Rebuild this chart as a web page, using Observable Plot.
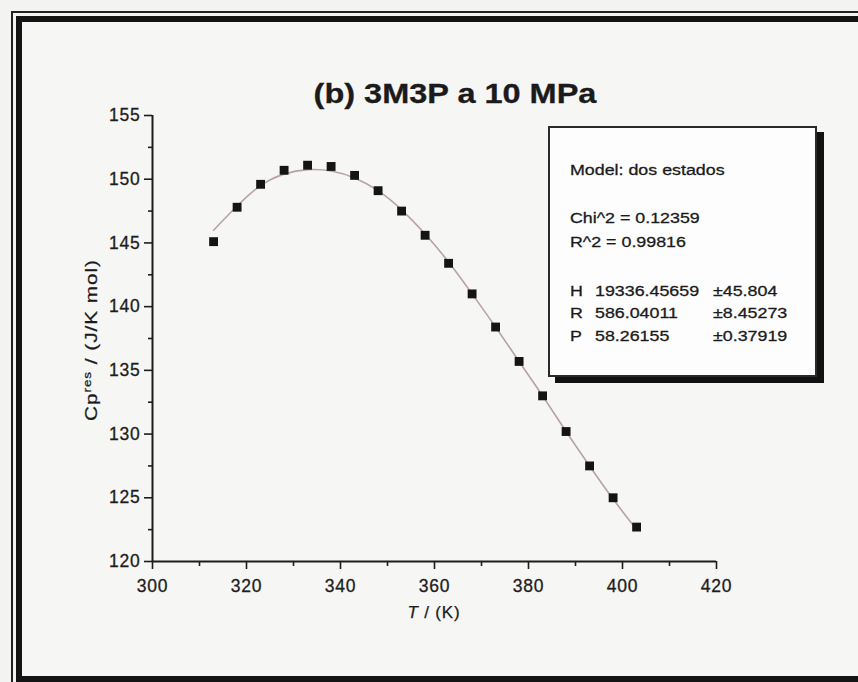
<!DOCTYPE html>
<html>
<head>
<meta charset="utf-8">
<script src="https://cdn.jsdelivr.net/npm/d3@7"></script>
<script src="https://cdn.jsdelivr.net/npm/@observablehq/plot@0.6"></script>
<style>
  html, body { margin: 0; padding: 0; }
  body {
    width: 858px; height: 682px; overflow: hidden; position: relative;
    background: #f3f3f1;
    font-family: "Liberation Sans", Arial, sans-serif; color: #1b1b1b;
  }
  #frameOuter { position: absolute; left: 11px; top: 11px; width: 900px; height: 700px; border: 2px solid #222; }
  #frameInner { position: absolute; left: 16px; top: 16px; width: 900px; height: 654px; border: 6px solid #141414; background: #f6f6f4; }
  #chart { position: absolute; left: 0; top: 0; }
  #chart svg text { stroke: #1d1d1d; stroke-width: 0.3px; }
  .txt { position: absolute; white-space: nowrap; line-height: 1; -webkit-text-stroke: 0.25px #1b1b1b; }
  #title { left: 455px; top: 80px; font-size: 28px; font-weight: bold; transform: translateX(-50%) scaleX(1.16); -webkit-text-stroke: 0.3px #1b1b1b; }
  #ylabel { left: 91px; top: 340px; font-size: 17px; letter-spacing: 0.8px; transform: translate(-50%, -50%) rotate(-90deg) scaleX(1.22); }
  #ylabel sup { font-size: 11px; vertical-align: 6px; }
  #xlabel { left: 434px; top: 612px; font-size: 17px; letter-spacing: 0.8px; transform: translate(-50%, -50%); }
  #legendBox {
    position: absolute; left: 548px; top: 126px; width: 269px; height: 251px; box-sizing: border-box;
    border: 2px solid #2a2a2a; background: #fdfdfd; box-shadow: 7px 6px 0 #121212;
  }
  .leg { font-size: 15.5px; transform: scaleX(1.15); transform-origin: 0 0; -webkit-text-stroke: 0.3px #1b1b1b; }
</style>
</head>
<body>
<div id="frameOuter"></div>
<div id="frameInner"></div>
<div id="chart"></div>
<div id="legendBox"></div>
<div id="legend"></div>
<div class="txt" id="title">(b) 3M3P a 10 MPa</div>
<div class="txt" id="ylabel">Cp<sup>res</sup> / (J/K mol)</div>
<div class="txt" id="xlabel"><i>T</i> / (K)</div>
<script>
// Heat capacity of 3M3P at 10 MPa: measured points and the two-state model fit
const temperature = [313, 318, 323, 328, 333, 338, 343, 348, 353, 358, 363, 368, 373, 378, 383, 388, 393, 398, 403];
const cpMeasured  = [145.1, 147.8, 149.6, 150.7, 151.1, 151.0, 150.3, 149.1, 147.5, 145.6, 143.4, 141.0, 138.4, 135.7, 133.0, 130.2, 127.5, 125.0, 122.7];
const cpModel     = [146.0, 147.9, 149.5, 150.4, 150.75, 150.65, 150.1, 149.1, 147.6, 145.7, 143.5, 141.0, 138.4, 135.7, 133.0, 130.2, 127.5, 124.9, 122.5];

const xTicks = [300, 320, 340, 360, 380, 400, 420];
const xMinorTicks = [310, 330, 350, 370, 390, 410];
const yTicks = [120, 125, 130, 135, 140, 145, 150, 155];
const yMinorTicks = [122.5, 127.5, 132.5, 137.5, 142.5, 147.5, 152.5];

// Fit summary shown in the inset box
const modelName = "Model: dos estados";
const fitStats = ["Chi^2 = 0.12359", "R^2 = 0.99816"];
const paramNames = ["H", "R", "P"];
const paramValues = ["19336.45659", "586.04011", "58.26155"];
const paramErrors = ["\u00b145.804", "\u00b18.45273", "\u00b10.37919"];

const measured = temperature.map((t, i) => ({T: t, cp: cpMeasured[i]}));
const model = temperature.map((t, i) => ({T: t, cp: cpModel[i]}));

const axisColor = "#1d1d1d";
const chart = Plot.plot({
  width: 858,
  height: 682,
  marginLeft: 152,
  marginRight: 142,
  marginTop: 115,
  marginBottom: 121,
  style: {background: "transparent", color: axisColor, fontFamily: "'Liberation Sans', Arial, sans-serif", fontSize: "17.5px", letterSpacing: "0.8px"},
  x: {domain: [300, 420], label: null},
  y: {domain: [120, 155], label: null},
  marks: [
    Plot.axisX({ticks: xMinorTicks, tickSize: 5, strokeWidth: 1.6, text: null, label: null}),
    Plot.axisX({ticks: xTicks, tickSize: 8, strokeWidth: 1.6, tickPadding: 10, label: null, tickFormat: d3.format("d")}),
    Plot.axisY({ticks: yMinorTicks, tickSize: 4, strokeWidth: 1.6, text: null, label: null}),
    Plot.axisY({ticks: yTicks, tickSize: 8, strokeWidth: 1.6, tickPadding: 4, label: null, tickFormat: d3.format("d")}),
    Plot.ruleY([120], {stroke: axisColor, strokeWidth: 2}),
    Plot.ruleX([300], {stroke: axisColor, strokeWidth: 2}),
    Plot.line(model, {x: "T", y: "cp", curve: "natural", stroke: "#b7a2a5", strokeWidth: 1.6}),
    Plot.dot(measured, {x: "T", y: "cp", symbol: "square", r: 5, fill: "#141414", stroke: "none"})
  ]
});
document.getElementById("chart").appendChild(chart);

// Inset text, laid out line by line
const legend = document.getElementById("legend");
function put(text, left, baseline) {
  const el = document.createElement("div");
  el.className = "txt leg";
  el.textContent = text;
  el.style.left = left + "px";
  el.style.top = (baseline - 13.2) + "px";
  legend.appendChild(el);
}
put(modelName, 570, 175);
fitStats.forEach((s, i) => put(s, 570, 223 + i * 24));
paramNames.forEach((p, i) => {
  const base = 296 + i * 22.5;
  put(p, 570, base);
  put(paramValues[i], 595, base);
  put(paramErrors[i], 713, base);
});
</script>
</body>
</html>
